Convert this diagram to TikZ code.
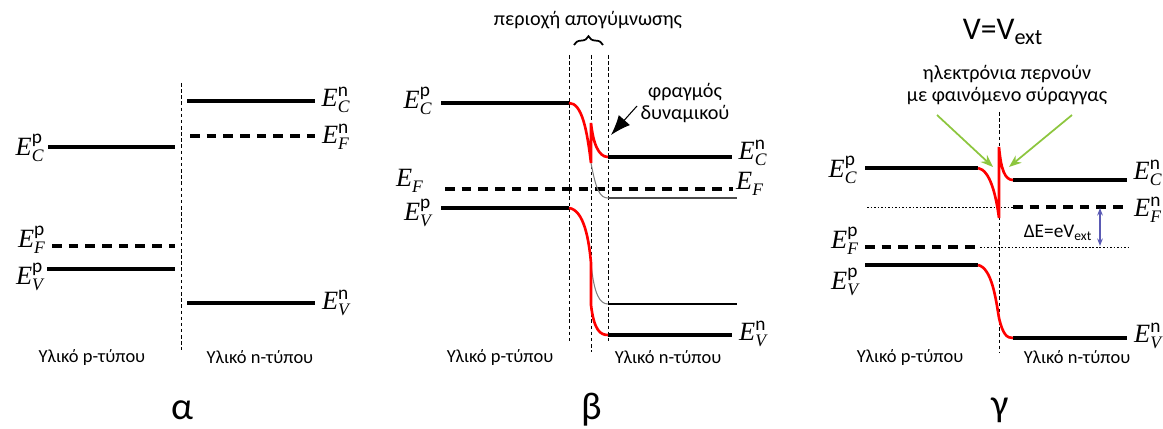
\documentclass[tikz,border=0pt]{standalone}
\usepackage{fontspec}
\setmainfont{Carlito}
\newfontfamily\tms{Liberation Serif}
\usetikzlibrary{arrows.meta,decorations.pathreplacing}

% energy level label E_sub^sup
\newcommand{\lev}[2]{$\hbox{\tms\itshape E}_{\hbox{\fontsize{10}{10}\selectfont\tms\itshape #1}}^{\hbox{\fontsize{11}{11}\selectfont #2}}$}

\begin{document}
\begin{tikzpicture}[x=0.02cm, y=-0.02cm,
  level/.style={line width=2.2pt},
  fermi/.style={line width=2.2pt, dash pattern=on 5.5pt off 4pt},
  junction/.style={line width=0.4pt, dash pattern=on 2pt off 1.5pt},
  bent/.style={line width=1.5pt, red},
  flat/.style={line width=0.6pt, gray},
  guide/.style={line width=0.4pt, dash pattern=on 1pt off 1pt},
  elabel/.style={font=\fontsize{15}{15}\selectfont, inner sep=0pt},
  material/.style={font=\fontsize{10.5}{12}\selectfont},
  note/.style={font=\fontsize{11.5}{13}\selectfont, align=center},
  panel/.style={font=\fontsize{22}{24}\selectfont}
]
\useasboundingbox (0,0) rectangle (1163,429);

% ---- panel a
\draw[junction] (181,83) -- (181,350);
\draw[level] (48,147) -- (175,147);
\draw[fermi] (52,246) -- (175,246);
\draw[level] (47,269) -- (175,269);
\draw[level] (187,101) -- (315,101);
\draw[fermi] (190,136) -- (315,136);
\draw[level] (187,303) -- (315,303);
\node[elabel] (ECpa) at (30,148) {\lev{C}{p}};
\node[elabel] (EFpa) at (32,240) {\lev{F}{p}};
\node[elabel] (EVpa) at (30,277) {\lev{V}{p}};
\node[elabel] (ECna) at (336,100) {\lev{C}{n}};
\node[elabel] (EFna) at (336,137) {\lev{F}{n}};
\node[elabel] (EVna) at (336,303) {\lev{V}{n}};
\node[material] (pa) at (92,357) {Υλικό p-τύπου};
\node[material] (na) at (260,357) {Υλικό n-τύπου};
\node[panel] (alpha) at (182,410) {α};

% ---- panel b
\draw[junction] (569,55) -- (569,343);
\draw[junction] (591,55) -- (591,352);
\draw[junction] (608,55) -- (608,343);
\node[note] (depl) at (588,20) {περιοχή απογύμνωσης};
\draw[line width=1pt, decorate, decoration={brace, amplitude=5pt}] (574,45) -- (603,45);
\draw[level] (441,103) -- (569,103);
\draw[level] (608,157) -- (732,157);
\draw[fermi] (445,189) -- (733,189);
\draw[level] (441,208) -- (569,208);
\draw[level] (608,335) -- (732,335);
\draw[flat] (591,163) .. controls (596,190) and (600,198) .. (608,198);
\draw[line width=0.7pt, black!70] (608,198) -- (737,198);
\draw[flat] (591,263) .. controls (594,295) and (600,304) .. (608,304);
\draw[line width=0.7pt] (608,304) -- (737,304);
\draw[bent] (569,103) .. controls (582,103) and (587,130) .. (591,163) -- (591,123)
  .. controls (593,142) and (598,157) .. (608,157);
\draw[bent] (569,208) .. controls (584,210) and (589,240) .. (591,263) -- (591,305)
  .. controls (594,330) and (600,335) .. (608,335);
\node[elabel] (ECpb) at (418,101) {\lev{C}{p}};
\node[elabel] (EFlb) at (410,181) {\lev{F}{}};
\node[elabel] (EVpb) at (418,213) {\lev{V}{p}};
\node[elabel] (ECnb) at (753,153) {\lev{C}{n}};
\node[elabel] (EFrb) at (750,184) {\lev{F}{}};
\node[elabel] (EVnb) at (753,334) {\lev{V}{n}};
\node[note, inner sep=1pt] (barrier) at (685,103) {φραγμός\\δυναμικού};
\draw[-{Latex[length=4mm, width=3mm]}, line width=0.6pt] (637,106) -- (611,135);
\node[material] (pb) at (500,357) {Υλικό p-τύπου};
\node[material] (nb) at (668,357) {Υλικό n-τύπου};
\node[panel] (beta) at (592,410) {β};

% ---- panel c
\node[font=\fontsize{18}{20}\selectfont] (volt) at (1003,32) {V=V\textsubscript{ext}};
\node[note] (tunnel) at (1007,85) {ηλεκτρόνια περνούν\\με φαινόμενο σύραγγας};
\draw[junction] (999,112) -- (999,353);
\draw[guide] (867,207) -- (1013,207);
\draw[guide] (980,247) -- (1128,247);
\draw[level] (865,168) -- (978,168);
\draw[level] (1013,180) -- (1127,180);
\draw[fermi] (1013,207) -- (1127,207);
\draw[fermi] (865,247) -- (980,247);
\draw[level] (865,265) -- (978,265);
\draw[level] (1013,338) -- (1127,338);
\draw[bent] (978,168) .. controls (990,170) and (996,195) .. (999,218) -- (999,147)
  .. controls (1001,170) and (1005,180) .. (1013,180);
\draw[bent] (978,265) .. controls (992,268) and (996,300) .. (999,318)
  .. controls (1003,335) and (1007,338) .. (1013,338);
\draw[-{Stealth[length=2.5mm]}, line width=1pt, color={rgb,255:red,141;green,198;blue,63}] (937,115) -- (993,167);
\draw[-{Stealth[length=2.5mm]}, line width=1pt, color={rgb,255:red,141;green,198;blue,63}] (1072,115) -- (1009,167);
\draw[{Stealth[length=1.5mm]}-{Stealth[length=1.5mm]}, line width=0.8pt, color={rgb,255:red,90;green,90;blue,180}] (1100,208) -- (1100,246);
\node[font=\fontsize{11}{13}\selectfont] (dE) at (1058,233) {ΔE=eV\textsubscript{ext}};
\node[elabel] (ECpc) at (843,170) {\lev{C}{p}};
\node[elabel] (EFpc) at (845,241) {\lev{F}{p}};
\node[elabel] (EVpc) at (845,282) {\lev{V}{p}};
\node[elabel] (ECnc) at (1148,173) {\lev{C}{n}};
\node[elabel] (EFnc) at (1148,210) {\lev{F}{n}};
\node[elabel] (EVnc) at (1148,336) {\lev{V}{n}};
\node[material] (pc) at (910,357) {Υλικό p-τύπου};
\node[material] (nc) at (1077,357) {Υλικό n-τύπου};
\node[panel] (gamma) at (1000,410) {γ};
\end{tikzpicture}
\end{document}
